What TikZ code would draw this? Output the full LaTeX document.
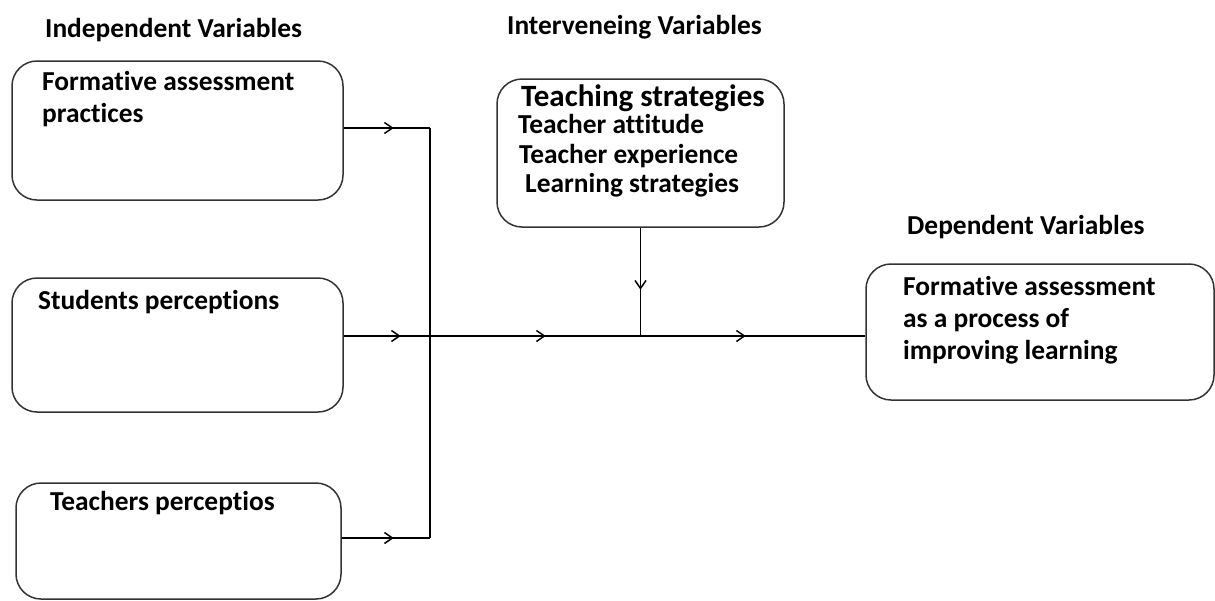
\documentclass[tikz,border=0pt]{standalone}
\usepackage{fontspec}
\setmainfont{Carlito}[Ligatures=NoCommon]
\usetikzlibrary{arrows.meta, positioning, calc, decorations.markings}
\definecolor{BoxGray}{rgb}{0.2, 0.2, 0.2}

\begin{document}
\begin{tikzpicture}[
    x=1pt, y=-1pt,
    font=\fontsize{27.4}{32}\selectfont\bfseries,
    varbox/.style={draw=BoxGray, line width=1.5pt, rounded corners=25pt,
        inner sep=0pt},
    head/.style={anchor=base west, inner sep=0pt},
    boxtext/.style={anchor=base west, inner sep=0pt, align=left},
    link/.style={line width=1.5pt, black},
    tip/.tip={Straight Barb[length=8pt, width=11pt, line width=1.5pt]},
    midarrow/.style={postaction={decorate}, decoration={markings,
        mark=at position #1 with {\arrow{tip}}}},
]
\useasboundingbox (0,0) rectangle (1215,600);

% ============ headings ============
\node[head] (hind) at (45,37)   {Independent Variables};
\node[head] (hint) at (507,34)  {Interveneing Variables};
\node[head] (hdep) at (907,234) {Dependent Variables};

% ============ boxes ============
\node[varbox, minimum width=331, minimum height=139] (ind1) at (177.5,130.5) {};
\node[varbox, minimum width=331, minimum height=134] (ind2) at (177.5,345) {};
\node[varbox, minimum width=325, minimum height=116] (ind3) at (178.5,541) {};
\node[varbox, minimum width=287, minimum height=148] (int)  at (640.5,153) {};
\node[varbox, minimum width=348, minimum height=136] (dep)  at (1040,332) {};

% base anchor of a multi-line text sits on its last line
\node[boxtext] (t1) at (42,122)  {Formative assessment\\practices};
\node[boxtext] (t2) at (38,309)  {Students perceptions};
\node[boxtext] (t3) at (50,510)  {Teachers perceptios};
\node[boxtext] (t5) at (903,359) {Formative assessment\\as a process of\\improving learning};
\node[boxtext, font=\fontsize{31}{32}\selectfont\bfseries] (t41) at (521,106)
    {Teaching strategies};
\foreach \txt/\px/\py [count=\i from 2] in {Teacher attitude/518/133,
    Teacher experience/519/163, Learning strategies/525/192}
  \node[boxtext] (t4\i) at (\px,\py) {\txt};

% ============ connectors ============
\coordinate (bustop) at (430,128);
\coordinate (busbot) at (430,538);
\coordinate (mid)    at (430,336);

\draw[link] (bustop) -- (busbot);
\draw[link, midarrow=50pt] (ind1.east |- bustop) -- (bustop);
\draw[link, midarrow=52pt] (ind3.east |- busbot) -- (busbot);
\draw[link, postaction={decorate}, decoration={markings,
    mark=at position 57pt with {\arrow{tip}},
    mark=at position 202pt with {\arrow{tip}},
    mark=at position 402pt with {\arrow{tip}}}]
  (ind2.east |- mid) -- (dep.west |- mid);
\draw[link, midarrow=62pt] (int.south) -- (int.south |- mid);

\end{tikzpicture}
\end{document}
